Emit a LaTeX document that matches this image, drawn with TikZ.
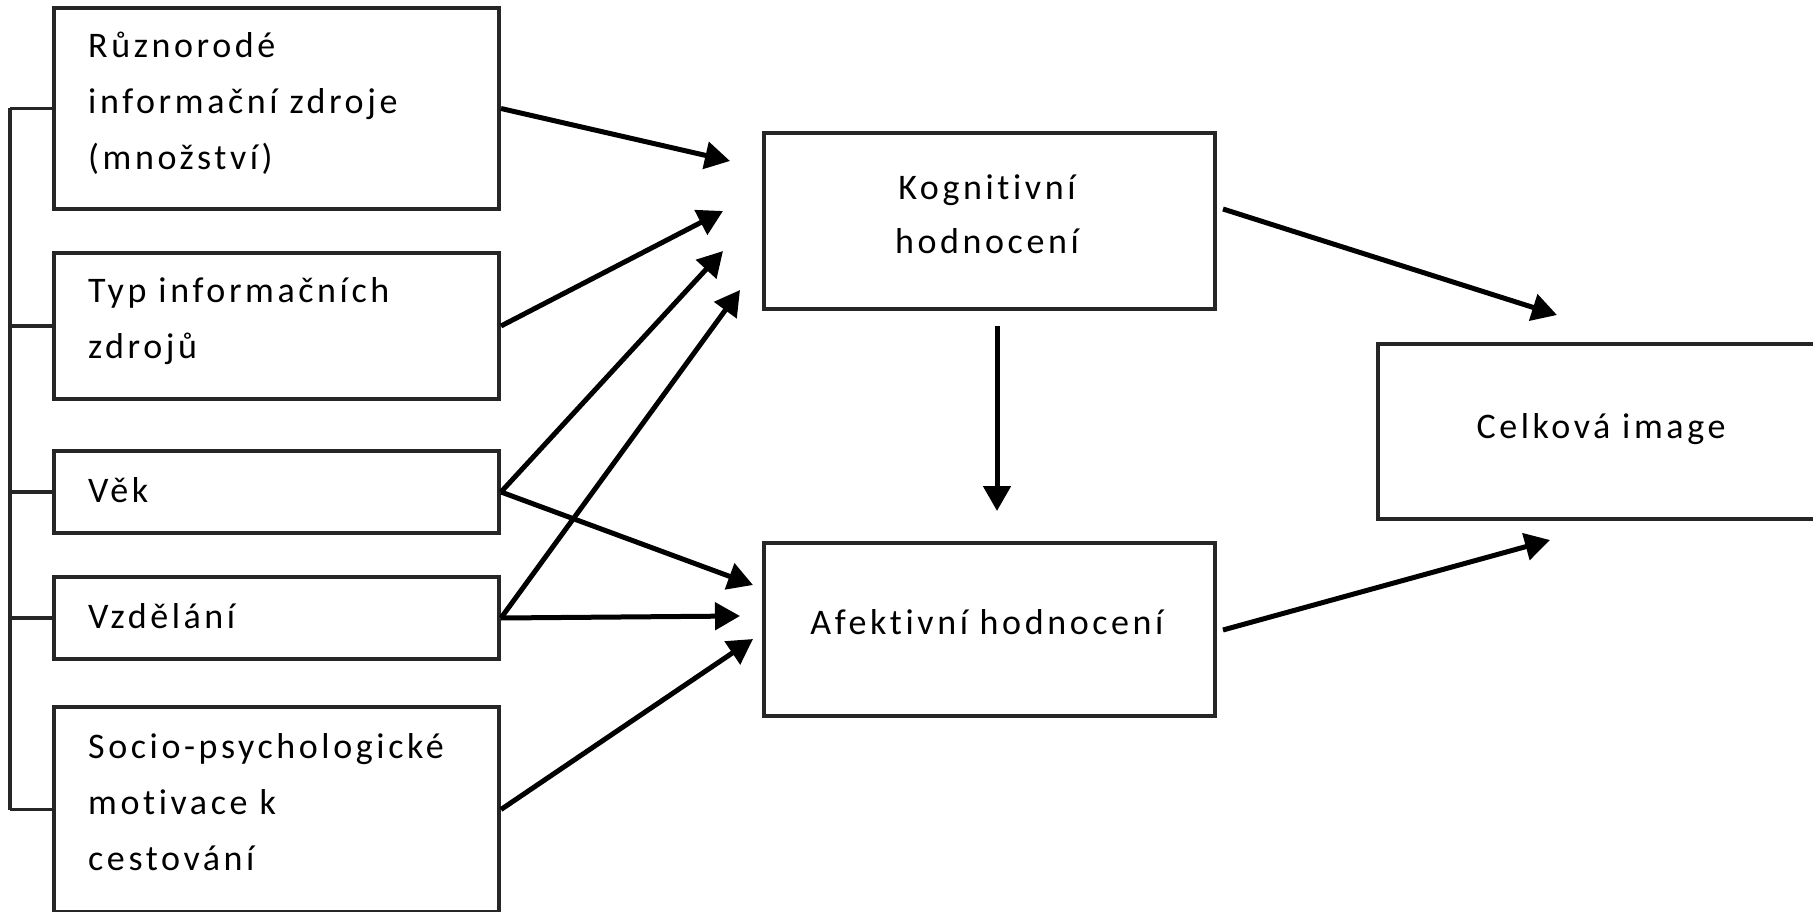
\documentclass[tikz,border=0pt]{standalone}
\usepackage{fontspec}
\setmainfont{Carlito}[LetterSpace=10, Ligatures={NoCommon}]
\usetikzlibrary{arrows.meta}
\begin{document}
\begin{tikzpicture}[x=1pt,y=-1pt,
  box/.style={draw=black!85, line width=4pt, inner sep=0pt, anchor=north west},
  lbl/.style={inner sep=0pt, text=black, font=\fontsize{36}{56}\selectfont},
  multi/.style={lbl, text width=420pt, align=left, anchor=base west},
  conn/.style={line width=5pt, draw=black, -{Triangle[length=25pt,width=27pt]}},
  bus/.style={line width=3.5pt, draw=black!85}]
\clip (0,0) rectangle (1813,912);

% input factors
\node[box, minimum width=445pt, minimum height=201pt] (b1) at (52,6) {};
\node[box, minimum width=445pt, minimum height=146pt] (b2) at (52,251) {};
\node[box, minimum width=445pt, minimum height=82pt]  (b3) at (52,449) {};
\node[box, minimum width=445pt, minimum height=82pt]  (b4) at (52,575) {};
\node[box, minimum width=445pt, minimum height=205pt] (b5) at (52,705) {};

\node[multi] (b1t) at (88,58) {Různorodé\\informační zdroje\\(množství)};
\node[multi] (b2t) at (88,302) {Typ informačních\\zdrojů};
\node[lbl, anchor=base west] (b3t) at (88,502) {Věk};
\node[lbl, anchor=base west] (b4t) at (88,628) {Vzdělání};
\node[multi] (b5t) at (88,758) {Socio-psychologické\\motivace k\\cestování};

% evaluations and overall image
\node[box, minimum width=451pt, minimum height=176pt] (kog) at (762,131) {};
\node[box, minimum width=451pt, minimum height=173pt] (afe) at (762,541) {};
\node[box, minimum width=450pt, minimum height=175pt] (cel) at (1376,342) {};

\node[lbl, text width=360pt, align=center, anchor=base,
      font=\fontsize{36}{54}\selectfont] (kogt) at (987,200) {Kognitivní\\hodnocení};
\node[lbl, anchor=base] (afet) at (987,634) {Afektivní hodnocení};
\node[lbl, anchor=base] (celt) at (1601,438) {Celková image};

% bracket joining the inputs
\coordinate (bus) at (10,0);
\draw[bus] (b1.west -| bus) -- (b5.west -| bus);
\foreach \n in {b1,b2,b3,b4,b5}
  \draw[bus] (\n.west -| bus) -- (\n.west);

% free arrow ends
\coordinate (t1) at (730,161);
\coordinate (t2) at (723,211);
\coordinate (t3) at (723,251);
\coordinate (t4) at (740,290);
\coordinate (t5) at (753,585);
\coordinate (t6) at (740,616);
\coordinate (t7) at (753,639);
\coordinate (ka) at (997,326);
\coordinate (kb) at (997,511);
\coordinate (kc) at (1223,209);
\coordinate (kd) at (1557,315);
\coordinate (ac) at (1223,630);
\coordinate (ad) at (1550,540);

\draw[conn] (b1.east) -- (t1);
\draw[conn] (b2.east) -- (t2);
\draw[conn] (b3.east) -- (t3);
\draw[conn] (b4.east) -- (t4);
\draw[conn] (b3.east) -- (t5);
\draw[conn] (b4.east) -- (t6);
\draw[conn] (b5.east) -- (t7);
\draw[conn] (ka) -- (kb);
\draw[conn] (kc) -- (kd);
\draw[conn] (ac) -- (ad);
\end{tikzpicture}
\end{document}
